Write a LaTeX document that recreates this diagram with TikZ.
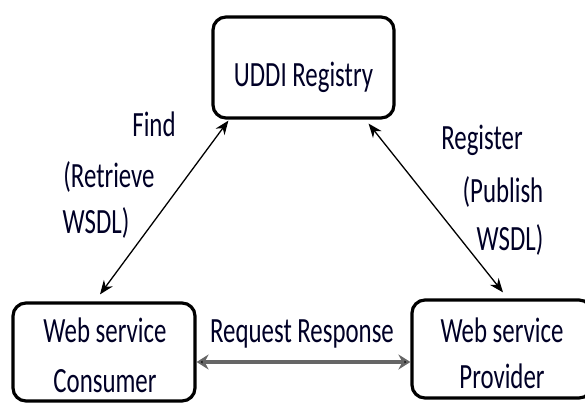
\documentclass[tikz,border=0pt]{standalone}
\usepackage{fontspec}
\setmainfont{Carlito}[FakeStretch=0.70]
\usetikzlibrary{arrows.meta}
\begin{document}
\begin{tikzpicture}[x=1pt,y=-1pt,
  box/.style={draw=black, line width=3.2pt, rounded corners=13pt, inner sep=0pt},
  txt/.style={font=\fontsize{35.5}{40}\selectfont, anchor=base, inner sep=0pt, text=black!85!blue},
  conn/.style={line width=1.3pt, {Stealth[length=14pt,width=11pt]}-{Stealth[length=14pt,width=11pt]}},
  rr/.style={line width=3.6pt, draw=black!60, {Stealth[length=12pt,width=15pt,inset=4pt,fill=black]}-{Stealth[length=12pt,width=15pt,inset=4pt,fill=black]}}
]
\useasboundingbox (0,0) rectangle (585,403);
% boxes
\node[box, minimum width=181pt, minimum height=101pt] (uddi) at (303.5,67.5) {};
\node[box, minimum width=182pt, minimum height=98pt] (cons) at (104,352) {};
\node[box, minimum width=180pt, minimum height=98pt] (prov) at (502,349) {};
% box texts
\node[txt] (tu) at (303.5,87) {UDDI Registry};
\node[txt] (tc1) at (105,342) {Web service};
\node[txt] (tc2) at (105,392) {Consumer};
\node[txt] (tp1) at (502,342) {Web service};
\node[txt] (tp2) at (502,388) {Provider};
% labels
\node[txt] (lf1) at (154,137) {Find};
\node[txt] (lf2) at (109,187) {(Retrieve};
\node[txt] (lf3) at (96,233) {WSDL)};
\node[txt] (lr1) at (482,150) {Register};
\node[txt] (lr2) at (503,202) {(Publish};
\node[txt] (lr3) at (510,250) {WSDL)};
\node[txt] (lrr) at (302,342) {Request Response};
% connectors
\draw[conn] ([xshift=17pt,yshift=-1pt]uddi.south west) -- ([xshift=-4pt,yshift=7pt]cons.north);
\draw[conn] ([xshift=-27pt,yshift=-4pt]uddi.south east) -- ([xshift=1pt,yshift=6pt]prov.north);
\draw[rr] ([yshift=-10pt]cons.east) -- ([yshift=-13pt]prov.west);
\end{tikzpicture}
\end{document}
